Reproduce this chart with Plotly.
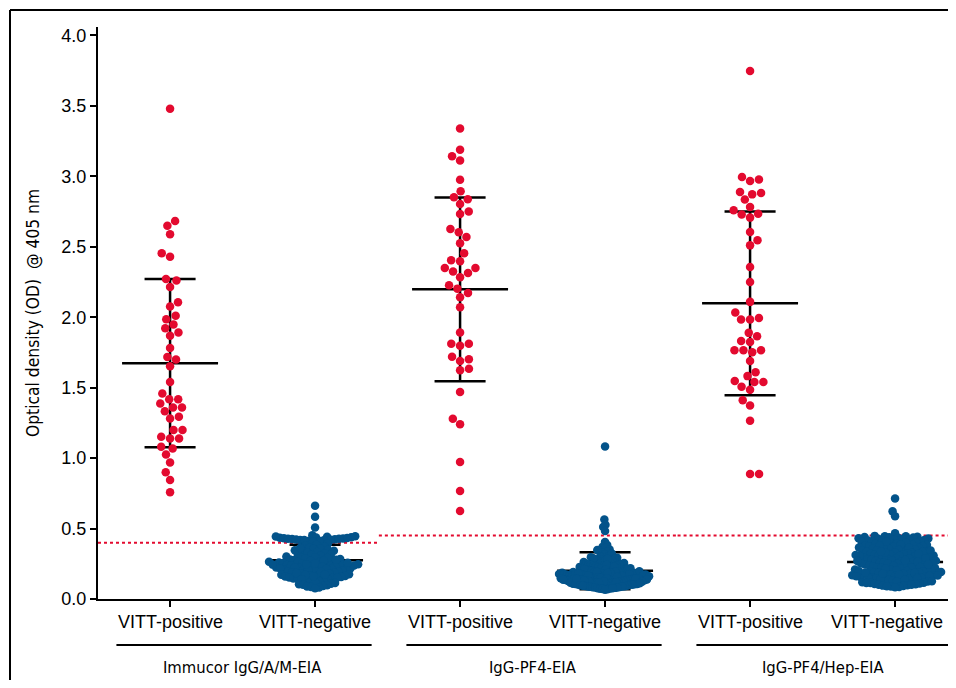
import math
import plotly.graph_objects as go

# ---------------- data ----------------
categories = ["VITT-positive", "VITT-negative", "VITT-positive", "VITT-negative", "VITT-positive", "VITT-negative"]
assays = ["Immucor IgG/A/M-EIA", "IgG-PF4-EIA", "IgG-PF4/Hep-EIA"]

pos1 = [3.48, 2.683, 2.65, 2.589, 2.454, 2.43, 2.272, 2.26, 2.215, 2.106, 2.076, 2.01, 1.986, 1.948,
        1.922, 1.891, 1.868, 1.782, 1.718, 1.70, 1.652, 1.541, 1.459, 1.418, 1.418, 1.388, 1.36, 1.36,
        1.333, 1.293, 1.281, 1.199, 1.199, 1.151, 1.14, 1.14, 1.08, 1.069, 1.026, 0.969, 0.90, 0.844, 0.757]

neg1 = [0.662, 0.584, 0.508,
        0.452, 0.446, 0.441, 0.437, 0.434, 0.431, 0.429, 0.426, 0.424, 0.421, 0.419, 0.417, 0.414, 0.411,
        0.438, 0.433, 0.428, 0.423, 0.418, 0.408, 0.443, 0.427,
        0.392, 0.384, 0.378, 0.371, 0.366, 0.359, 0.355, 0.348, 0.343, 0.338, 0.334, 0.329, 0.323, 0.318,
        0.312, 0.307, 0.302, 0.346, 0.362, 0.315,
        0.297, 0.293, 0.288, 0.284, 0.281, 0.276, 0.273, 0.269, 0.266, 0.262, 0.259, 0.256, 0.252, 0.249,
        0.246, 0.243, 0.241, 0.238, 0.235, 0.232, 0.229, 0.226, 0.223, 0.221, 0.218, 0.215, 0.212, 0.209,
        0.206, 0.203, 0.201, 0.291, 0.271, 0.254, 0.237, 0.224, 0.208, 0.264, 0.244, 0.217, 0.279, 0.231,
        0.213, 0.247, 0.258,
        0.197, 0.193, 0.189, 0.186, 0.182, 0.179, 0.176, 0.172, 0.169, 0.166, 0.163, 0.159, 0.156, 0.153,
        0.149, 0.146, 0.143, 0.139, 0.136, 0.132, 0.128, 0.124, 0.121, 0.184, 0.171, 0.161, 0.151, 0.141,
        0.191, 0.174,
        0.114, 0.109, 0.104, 0.101, 0.097, 0.093, 0.089, 0.085, 0.081, 0.076]

pos2 = [3.34, 3.189, 3.142, 3.113, 2.976, 2.894, 2.837, 2.851, 2.804, 2.75, 2.733, 2.627, 2.603, 2.57,
        2.525, 2.454, 2.397, 2.404, 2.35, 2.35, 2.324, 2.314, 2.284, 2.227, 2.203, 2.172, 2.142, 2.071,
        1.891, 1.811, 1.811, 1.797, 1.719, 1.702, 1.69, 1.634, 1.624, 1.47, 1.279, 1.241, 0.972, 0.766, 0.624]

neg2 = [1.083, 0.565, 0.527, 0.511, 0.483,
        0.405, 0.384, 0.371, 0.362, 0.352, 0.343, 0.336, 0.327, 0.318, 0.309, 0.301, 0.347, 0.322,
        0.297, 0.292, 0.286, 0.281, 0.277, 0.272, 0.268, 0.263, 0.259, 0.255, 0.251, 0.289, 0.274, 0.261, 0.284,
        0.248, 0.245, 0.242, 0.238, 0.235, 0.232, 0.228, 0.225, 0.222, 0.219, 0.216, 0.213, 0.209, 0.206,
        0.203, 0.201, 0.244, 0.236, 0.227, 0.218, 0.211, 0.241, 0.229, 0.214, 0.205,
        0.198, 0.196, 0.194, 0.192, 0.190, 0.188, 0.186, 0.184, 0.182, 0.180, 0.178, 0.176, 0.174, 0.172,
        0.170, 0.168, 0.166, 0.164, 0.162, 0.160, 0.158, 0.156, 0.154, 0.152, 0.151, 0.197, 0.193, 0.187,
        0.183, 0.177, 0.173, 0.169, 0.163, 0.159, 0.155, 0.191, 0.181, 0.171, 0.161, 0.153, 0.185, 0.175,
        0.165, 0.157, 0.179,
        0.149, 0.147, 0.145, 0.143, 0.141, 0.139, 0.137, 0.135, 0.133, 0.131, 0.129, 0.127, 0.125, 0.123,
        0.121, 0.119, 0.117, 0.115, 0.113, 0.111, 0.109, 0.107, 0.105, 0.103, 0.101, 0.148, 0.144, 0.138,
        0.134, 0.128, 0.124, 0.118, 0.114, 0.108, 0.104, 0.146, 0.136, 0.126, 0.116, 0.106, 0.142, 0.132,
        0.122, 0.112, 0.102,
        0.098, 0.095, 0.093, 0.091, 0.089, 0.087, 0.085, 0.083, 0.081, 0.079, 0.077, 0.075, 0.073, 0.071,
        0.069, 0.066, 0.094, 0.088, 0.082, 0.076]

pos3 = [3.747, 2.995, 2.977, 2.967, 2.889, 2.882, 2.872, 2.835, 2.783, 2.759, 2.735, 2.73, 2.707, 2.605,
        2.546, 2.51, 2.357, 2.25, 2.109, 2.033, 1.995, 1.984, 1.984, 1.889, 1.865, 1.832, 1.825, 1.766,
        1.766, 1.752, 1.766, 1.69, 1.61, 1.582, 1.541, 1.541, 1.548, 1.506, 1.485, 1.411, 1.374, 1.265,
        0.887, 0.887]

neg3 = [0.714, 0.622, 0.588, 0.466,
        0.448, 0.445, 0.442, 0.440, 0.437, 0.434, 0.431, 0.428, 0.425, 0.422, 0.446, 0.438, 0.429, 0.421,
        0.418, 0.415, 0.411, 0.408, 0.404, 0.401, 0.397, 0.394, 0.390, 0.387, 0.383, 0.380, 0.376, 0.373,
        0.369, 0.366, 0.362, 0.359, 0.355, 0.352, 0.413, 0.399, 0.385, 0.371, 0.357, 0.406, 0.378, 0.364,
        0.348, 0.345, 0.342, 0.339, 0.336, 0.333, 0.330, 0.327, 0.324, 0.321, 0.318, 0.315, 0.312, 0.309,
        0.306, 0.303, 0.300, 0.297, 0.294, 0.291, 0.288, 0.285, 0.282, 0.344, 0.331, 0.319, 0.307, 0.295,
        0.283, 0.337, 0.313, 0.289,
        0.278, 0.275, 0.272, 0.269, 0.266, 0.263, 0.260, 0.257, 0.254, 0.251, 0.248, 0.245, 0.242, 0.239,
        0.236, 0.233, 0.230, 0.227, 0.224, 0.221, 0.218, 0.215, 0.212, 0.209, 0.206, 0.203, 0.276, 0.264,
        0.252, 0.240, 0.228, 0.216, 0.204, 0.270, 0.246, 0.222,
        0.199, 0.196, 0.193, 0.190, 0.187, 0.184, 0.181, 0.178, 0.175, 0.172, 0.169, 0.166, 0.163, 0.160,
        0.157, 0.154, 0.151, 0.148, 0.145, 0.142, 0.139, 0.136, 0.133, 0.197, 0.185, 0.173, 0.161, 0.149,
        0.137, 0.191, 0.167, 0.143, 0.179, 0.155, 0.188, 0.164,
        0.128, 0.125, 0.122, 0.119, 0.116, 0.113, 0.110, 0.107, 0.104, 0.101, 0.098, 0.095, 0.092, 0.089,
        0.086, 0.083, 0.126, 0.114, 0.102, 0.091]

groups = [pos1, neg1, pos2, neg2, pos3, neg3]
means = [1.674, 0.275, 2.198, 0.201, 2.099, 0.262]
sds = [0.597, 0.11, 0.652, 0.131, 0.652, 0.11]
cutoffs = [0.40, 0.45, 0.45]

RED = "#E30A2F"
BLUE = "#03538A"

# ---------------- layout geometry (page body has an 8px margin) ----------------
W, H = 948, 672
ML, MR, MT, MB = 90, 0, 19, 81
CAT_PX = 145.0               # px between neighbouring categories
XLO = -0.497
XR = [XLO, XLO + (W - ML - MR) / CAT_PX]
YR = [0, 4.06]
PW, PH = W - ML - MR, H - MT - MB
PXX = PW / (XR[1] - XR[0])   # px per category unit
PXY = PH / (YR[1] - YR[0])   # px per OD unit
VISIBLE_RIGHT = 937          # figure px beyond which the page is cut off


def swarm(vals, d, maxw):
    order = sorted(range(len(vals)), key=lambda i: vals[i])
    placed = []
    xs = [0.0] * len(vals)
    flip = 1
    for i in order:
        y = vals[i] * PXY
        near = [(px, py) for px, py in placed if abs(py - y) < d]
        cands = [0.0]
        for px, py in near:
            dx = math.sqrt(d * d - (py - y) ** 2)
            cands += [px + dx, px - dx]
        cands.sort(key=lambda c: (round(abs(c), 3), flip * c))
        flip = -flip
        for c in cands:
            if all((c - px) ** 2 + (y - py) ** 2 >= d * d - 1e-6 for px, py in near):
                xs[i] = c
                placed.append((c, y))
                break
    m = max(abs(x) for x in xs) if xs else 0
    if m > maxw:
        xs = [x * maxw / m for x in xs]
    return [x / PXX for x in xs]


fig = go.Figure()

# cutoff lines (red dotted)
cut_x = [[XR[0], 1.44], [1.44, 3.5], [3.5, XR[1]]]
for c, xx in zip(cutoffs, cut_x):
    fig.add_trace(go.Scatter(x=xx, y=[c, c], mode="lines",
                             line=dict(color=RED, width=2, dash="dot"),
                             hoverinfo="skip", showlegend=False))

# mean +/- SD lines
lx, ly = [], []
for i, (m, s) in enumerate(zip(means, sds)):
    lx += [i - 0.331, i + 0.331, None, i, i, None,
           i - 0.176, i + 0.176, None, i - 0.176, i + 0.176, None]
    ly += [m, m, None, m - s, m + s, None, m + s, m + s, None, m - s, m - s, None]
fig.add_trace(go.Scatter(x=lx, y=ly, mode="lines", line=dict(color="black", width=2.5),
                         hoverinfo="skip", showlegend=False))

# dots
for i, vals in enumerate(groups):
    color = RED if i % 2 == 0 else BLUE
    if i % 2 == 0:
        offs = swarm(vals, 9.0, 60)
    else:
        offs = swarm(vals, 6.0, 46)
    fig.add_trace(go.Scatter(x=[i + o for o in offs], y=vals, mode="markers",
                             marker=dict(color=color, size=8.5, line=dict(width=0)),
                             showlegend=False))

# vertical positions below the axis, in px from the plot bottom
TICKLABEL_PX = 23
BRACKET_PX = 46
LABEL_PX = 68

shapes = []
# group bracket lines
for g in range(3):
    shapes.append(dict(type="line", xref="x", yref="paper",
                       x0=2 * g - 0.37, x1=2 * g + 1 + 0.39, y0=-BRACKET_PX / PH, y1=-BRACKET_PX / PH,
                       line=dict(color="black", width=2)))
# outer frame (cropped)
fx = (2 - ML) / PW
fy = (H - MB - 2) / PH
shapes.append(dict(type="line", xref="paper", yref="paper", x0=fx, x1=fx, y0=fy, y1=-0.3,
                   line=dict(color="black", width=2)))
shapes.append(dict(type="line", xref="paper", yref="paper", x0=fx, x1=1.1, y0=fy, y1=fy,
                   line=dict(color="black", width=2)))

annotations = []
# category labels under the ticks (last one kept inside the visible page)
for i, name in enumerate(categories):
    if i == len(categories) - 1:
        ax, anc = XLO + (VISIBLE_RIGHT - ML) / CAT_PX, "right"
    else:
        ax, anc = i, "center"
    annotations.append(dict(text=name, x=ax, xref="x", y=-TICKLABEL_PX / PH, yref="paper",
                            showarrow=False, xanchor=anc, yanchor="middle",
                            font=dict(family="Liberation Sans, Arial", size=18, color="black")))

COND = "DejaVu Sans Condensed, Liberation Sans Narrow, Arial Narrow, Liberation Sans, Arial"
for g, name in enumerate(assays):
    annotations.append(dict(text=name, x=2 * g + 0.5, xref="x", y=-LABEL_PX / PH, yref="paper",
                            showarrow=False, xanchor="center", yanchor="middle",
                            font=dict(family=COND, size=16.5, color="black")))
annotations.append(dict(text="Optical density (OD)  @ 405 nm", x=(25 - ML) / PW, xref="paper",
                        y=0.5, yref="paper", textangle=-90, showarrow=False,
                        xanchor="center", yanchor="middle",
                        font=dict(family=COND, size=17.3, color="black")))

fig.update_layout(
    width=W, height=H,
    margin=dict(l=ML, r=MR, t=MT, b=MB),
    paper_bgcolor="white", plot_bgcolor="white",
    font=dict(family="Liberation Sans, Arial, sans-serif", size=18, color="black"),
    shapes=shapes, annotations=annotations,
    xaxis=dict(range=XR, tickmode="array", tickvals=list(range(6)), showticklabels=False,
               showgrid=False, zeroline=False, showline=True, linecolor="black", linewidth=2,
               ticks="outside", ticklen=6, tickwidth=2, tickcolor="black"),
    yaxis=dict(range=YR, tickmode="array", tickvals=[0, 0.5, 1, 1.5, 2, 2.5, 3, 3.5, 4],
               ticktext=["0.0", "0.5", "1.0", "1.5", "2.0", "2.5", "3.0", "3.5", "4.0"],
               showgrid=False, zeroline=False, showline=True, linecolor="black", linewidth=2,
               ticks="outside", ticklen=6, tickwidth=2, tickcolor="black",
               tickfont=dict(size=18)),
)

fig.write_html("out.html")
